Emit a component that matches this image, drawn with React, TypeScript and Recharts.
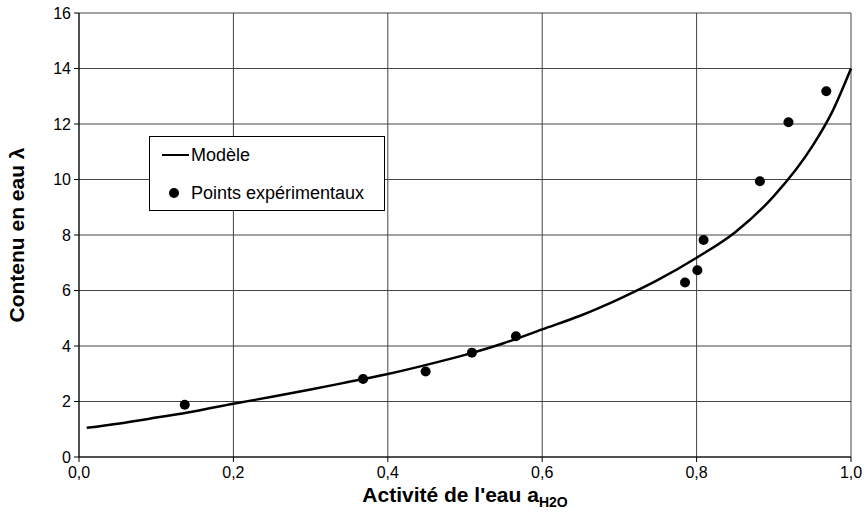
import React from 'react';
import {
  ComposedChart,
  Line,
  Scatter,
  XAxis,
  YAxis,
  CartesianGrid,
  Legend,
  Label,
} from 'recharts';

// model curve
const modelX = [0.01, 0.05, 0.1, 0.15, 0.2, 0.25, 0.3, 0.35, 0.4, 0.45, 0.5, 0.55, 0.6, 0.65, 0.7, 0.75, 0.8, 0.85, 0.9, 0.95, 0.975, 1.0];
const modelY = [1.05, 1.2, 1.42, 1.65, 1.92, 2.17, 2.43, 2.71, 2.99, 3.32, 3.68, 4.1, 4.6, 5.1, 5.7, 6.38, 7.18, 8.1, 9.4, 11.2, 12.4, 14.0];

// experimental points
const expX = [0.137, 0.368, 0.449, 0.509, 0.566, 0.785, 0.801, 0.809, 0.882, 0.919, 0.968];
const expY = [1.88, 2.81, 3.08, 3.76, 4.35, 6.29, 6.73, 7.82, 9.94, 12.06, 13.18];

const xTicks = [0, 0.2, 0.4, 0.6, 0.8, 1.0];
const yTicks = [0, 2, 4, 6, 8, 10, 12, 14, 16];

const model = modelX.map((x, i) => ({ x, y: modelY[i] }));
const points = expX.map((x, i) => ({ x, y: expY[i] }));

const FONT = '"Liberation Sans", Arial, sans-serif';

const renderLegend = () => (
  <div
    style={{
      width: 236,
      height: 75,
      border: '1px solid #000',
      background: '#fff',
      fontFamily: FONT,
      fontSize: 18,
      color: '#000',
      position: 'relative',
      boxSizing: 'border-box',
      lineHeight: '20px',
    }}
  >
    <div style={{ position: 'absolute', left: 12, top: 17, width: 27, height: 2, background: '#000' }} />
    <div style={{ position: 'absolute', left: 41, top: 8 }}>Modèle</div>
    <div style={{ position: 'absolute', left: 19, top: 51, width: 10, height: 10, borderRadius: 5, background: '#000' }} />
    <div style={{ position: 'absolute', left: 41, top: 46 }}>Points expérimentaux</div>
  </div>
);

const Dot = (props: any) => <circle cx={props.cx} cy={props.cy} r={5} fill="#000" />;

const App: React.FC = () => {
  return (
    <div style={{ position: 'absolute', left: 0, top: 0, background: '#fff' }}>
      <ComposedChart
        width={868}
        height={528}
        margin={{ top: 13, right: 17, bottom: 0, left: 0 }}
        style={{ fontFamily: FONT }}
      >
        <CartesianGrid stroke="#444" strokeWidth={1} />
        <XAxis
          dataKey="x"
          type="number"
          domain={[0, 1]}
          ticks={xTicks}
          tickFormatter={(v: number) => v.toFixed(1).replace('.', ',')}
          height={71}
          tickSize={5}
          tickMargin={5}
          stroke="#000"
          tick={{ fill: '#000', fontSize: 16 }}
        >
          <Label
            content={(p: any) => {
              const vb = p.viewBox;
              const cx = vb.x + vb.width / 2;
              return (
                <text x={cx} y={vb.y + 45} textAnchor="middle" fontFamily={FONT} fontSize={21} fontWeight="bold" fill="#000">
                  Activité de l'eau a
                  <tspan fontSize={14} dy={5}>H2O</tspan>
                </text>
              );
            }}
          />
        </XAxis>
        <YAxis
          dataKey="y"
          type="number"
          domain={[0, 16]}
          ticks={yTicks}
          width={79}
          tickSize={5}
          tickMargin={3}
          stroke="#000"
          tick={{ fill: '#000', fontSize: 16 }}
        >
          <Label
            content={(p: any) => {
              const vb = p.viewBox;
              const cy = vb.y + vb.height / 2;
              return (
                <text
                  x={24}
                  y={cy}
                  transform={`rotate(-90, 24, ${cy})`}
                  textAnchor="middle"
                  fontFamily={FONT}
                  fontSize={21}
                  fontWeight="bold"
                  fill="#000"
                >
                  Contenu en eau λ
                </text>
              );
            }}
          />
        </YAxis>
        <Legend
          layout="vertical"
          align="center"
          verticalAlign="middle"
          content={renderLegend}
          wrapperStyle={{ left: 149, top: 136, width: 236 }}
        />
        <Line
          data={model}
          dataKey="y"
          type="monotone"
          stroke="#000"
          strokeWidth={2.5}
          dot={false}
          activeDot={false}
          isAnimationActive={false}
        />
        <Scatter data={points} dataKey="y" shape={Dot} isAnimationActive={false} />
      </ComposedChart>
    </div>
  );
};

export default App;
